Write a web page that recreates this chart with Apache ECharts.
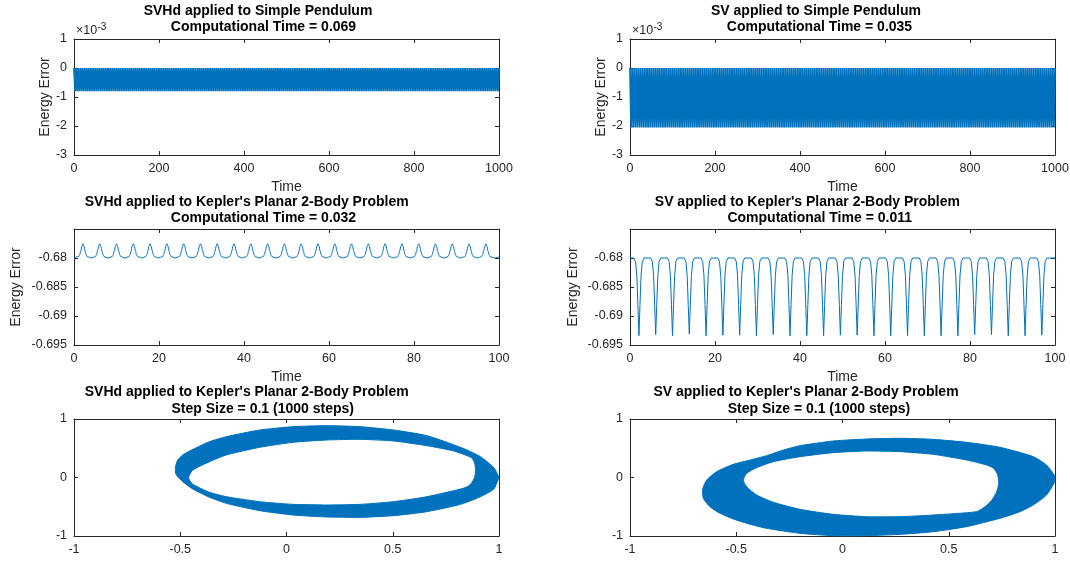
<!DOCTYPE html>
<html><head><meta charset="utf-8">
<script src="https://cdn.jsdelivr.net/npm/echarts@6/dist/echarts.min.js"></script>
<style>html,body{margin:0;padding:0;background:#fff}#c{width:1070px;height:561px}</style>
</head><body><div id="c"></div>
<script>
// ---------------- DATA ----------------
// Simple pendulum energy error (units of 1e-3), sampled every PEND_DT time units
const PEND_DT = 2.5;
const pendSVHdErr = [
0,-0.8,0,-0.8,0,-0.8,0,-0.8,0,-0.8,0,-0.8,0,-0.8,0,-0.8,0,-0.8,0,-0.8,
0,-0.8,0,-0.8,0,-0.8,0,-0.8,0,-0.8,0,-0.8,0,-0.8,0,-0.8,0,-0.8,0,-0.8,
0,-0.8,0,-0.8,0,-0.8,0,-0.8,0,-0.8,0,-0.8,0,-0.8,0,-0.8,0,-0.8,0,-0.8,
0,-0.8,0,-0.8,0,-0.8,0,-0.8,0,-0.8,0,-0.8,0,-0.8,0,-0.8,0,-0.8,0,-0.8,
0,-0.8,0,-0.8,0,-0.8,0,-0.8,0,-0.8,0,-0.8,0,-0.8,0,-0.8,0,-0.8,0,-0.8,
0,-0.8,0,-0.8,0,-0.8,0,-0.8,0,-0.8,0,-0.8,0,-0.8,0,-0.8,0,-0.8,0,-0.8,
0,-0.8,0,-0.8,0,-0.8,0,-0.8,0,-0.8,0,-0.8,0,-0.8,0,-0.8,0,-0.8,0,-0.8,
0,-0.8,0,-0.8,0,-0.8,0,-0.8,0,-0.8,0,-0.8,0,-0.8,0,-0.8,0,-0.8,0,-0.8,
0,-0.8,0,-0.8,0,-0.8,0,-0.8,0,-0.8,0,-0.8,0,-0.8,0,-0.8,0,-0.8,0,-0.8,
0,-0.8,0,-0.8,0,-0.8,0,-0.8,0,-0.8,0,-0.8,0,-0.8,0,-0.8,0,-0.8,0,-0.8,
0,-0.8,0,-0.8,0,-0.8,0,-0.8,0,-0.8,0,-0.8,0,-0.8,0,-0.8,0,-0.8,0,-0.8,
0,-0.8,0,-0.8,0,-0.8,0,-0.8,0,-0.8,0,-0.8,0,-0.8,0,-0.8,0,-0.8,0,-0.8,
0,-0.8,0,-0.8,0,-0.8,0,-0.8,0,-0.8,0,-0.8,0,-0.8,0,-0.8,0,-0.8,0,-0.8,
0,-0.8,0,-0.8,0,-0.8,0,-0.8,0,-0.8,0,-0.8,0,-0.8,0,-0.8,0,-0.8,0,-0.8,
0,-0.8,0,-0.8,0,-0.8,0,-0.8,0,-0.8,0,-0.8,0,-0.8,0,-0.8,0,-0.8,0,-0.8,
0,-0.8,0,-0.8,0,-0.8,0,-0.8,0,-0.8,0,-0.8,0,-0.8,0,-0.8,0,-0.8,0,-0.8,
0,-0.8,0,-0.8,0,-0.8,0,-0.8,0,-0.8,0,-0.8,0,-0.8,0,-0.8,0,-0.8,0,-0.8,
0,-0.8,0,-0.8,0,-0.8,0,-0.8,0,-0.8,0,-0.8,0,-0.8,0,-0.8,0,-0.8,0,-0.8,
0,-0.8,0,-0.8,0,-0.8,0,-0.8,0,-0.8,0,-0.8,0,-0.8,0,-0.8,0,-0.8,0,-0.8,
0,-0.8,0,-0.8,0,-0.8,0,-0.8,0,-0.8,0,-0.8,0,-0.8,0,-0.8,0,-0.8,0,-0.8,
0];
const pendSVErr = [
0,-2.05,0,-2.05,0,-2.05,0,-2.05,0,-2.05,0,-2.05,0,-2.05,0,-2.05,0,-2.05,0,-2.05,
0,-2.05,0,-2.05,0,-2.05,0,-2.05,0,-2.05,0,-2.05,0,-2.05,0,-2.05,0,-2.05,0,-2.05,
0,-2.05,0,-2.05,0,-2.05,0,-2.05,0,-2.05,0,-2.05,0,-2.05,0,-2.05,0,-2.05,0,-2.05,
0,-2.05,0,-2.05,0,-2.05,0,-2.05,0,-2.05,0,-2.05,0,-2.05,0,-2.05,0,-2.05,0,-2.05,
0,-2.05,0,-2.05,0,-2.05,0,-2.05,0,-2.05,0,-2.05,0,-2.05,0,-2.05,0,-2.05,0,-2.05,
0,-2.05,0,-2.05,0,-2.05,0,-2.05,0,-2.05,0,-2.05,0,-2.05,0,-2.05,0,-2.05,0,-2.05,
0,-2.05,0,-2.05,0,-2.05,0,-2.05,0,-2.05,0,-2.05,0,-2.05,0,-2.05,0,-2.05,0,-2.05,
0,-2.05,0,-2.05,0,-2.05,0,-2.05,0,-2.05,0,-2.05,0,-2.05,0,-2.05,0,-2.05,0,-2.05,
0,-2.05,0,-2.05,0,-2.05,0,-2.05,0,-2.05,0,-2.05,0,-2.05,0,-2.05,0,-2.05,0,-2.05,
0,-2.05,0,-2.05,0,-2.05,0,-2.05,0,-2.05,0,-2.05,0,-2.05,0,-2.05,0,-2.05,0,-2.05,
0,-2.05,0,-2.05,0,-2.05,0,-2.05,0,-2.05,0,-2.05,0,-2.05,0,-2.05,0,-2.05,0,-2.05,
0,-2.05,0,-2.05,0,-2.05,0,-2.05,0,-2.05,0,-2.05,0,-2.05,0,-2.05,0,-2.05,0,-2.05,
0,-2.05,0,-2.05,0,-2.05,0,-2.05,0,-2.05,0,-2.05,0,-2.05,0,-2.05,0,-2.05,0,-2.05,
0,-2.05,0,-2.05,0,-2.05,0,-2.05,0,-2.05,0,-2.05,0,-2.05,0,-2.05,0,-2.05,0,-2.05,
0,-2.05,0,-2.05,0,-2.05,0,-2.05,0,-2.05,0,-2.05,0,-2.05,0,-2.05,0,-2.05,0,-2.05,
0,-2.05,0,-2.05,0,-2.05,0,-2.05,0,-2.05,0,-2.05,0,-2.05,0,-2.05,0,-2.05,0,-2.05,
0,-2.05,0,-2.05,0,-2.05,0,-2.05,0,-2.05,0,-2.05,0,-2.05,0,-2.05,0,-2.05,0,-2.05,
0,-2.05,0,-2.05,0,-2.05,0,-2.05,0,-2.05,0,-2.05,0,-2.05,0,-2.05,0,-2.05,0,-2.05,
0,-2.05,0,-2.05,0,-2.05,0,-2.05,0,-2.05,0,-2.05,0,-2.05,0,-2.05,0,-2.05,0,-2.05,
0,-2.05,0,-2.05,0,-2.05,0,-2.05,0,-2.05,0,-2.05,0,-2.05,0,-2.05,0,-2.05,0,-2.05,
0];

// Kepler energy, SVHd (time, energy)
const kepHdT = [0,
1.10,1.35,1.60,1.85,2.10,2.35,2.60,2.85,3.10,4.075,
5.05,5.30,5.55,5.80,6.05,6.30,6.55,6.80,7.05,8.025,
9.00,9.25,9.50,9.75,10.00,10.25,10.50,10.75,11.00,11.975,
12.95,13.20,13.45,13.70,13.95,14.20,14.45,14.70,14.95,15.925,
16.90,17.15,17.40,17.65,17.90,18.15,18.40,18.65,18.90,19.875,
20.85,21.10,21.35,21.60,21.85,22.10,22.35,22.60,22.85,23.825,
24.80,25.05,25.30,25.55,25.80,26.05,26.30,26.55,26.80,27.775,
28.75,29.00,29.25,29.50,29.75,30.00,30.25,30.50,30.75,31.725,
32.70,32.95,33.20,33.45,33.70,33.95,34.20,34.45,34.70,35.675,
36.65,36.90,37.15,37.40,37.65,37.90,38.15,38.40,38.65,39.625,
40.60,40.85,41.10,41.35,41.60,41.85,42.10,42.35,42.60,43.575,
44.55,44.80,45.05,45.30,45.55,45.80,46.05,46.30,46.55,47.525,
48.50,48.75,49.00,49.25,49.50,49.75,50.00,50.25,50.50,51.475,
52.45,52.70,52.95,53.20,53.45,53.70,53.95,54.20,54.45,55.425,
56.40,56.65,56.90,57.15,57.40,57.65,57.90,58.15,58.40,59.375,
60.35,60.60,60.85,61.10,61.35,61.60,61.85,62.10,62.35,63.325,
64.30,64.55,64.80,65.05,65.30,65.55,65.80,66.05,66.30,67.275,
68.25,68.50,68.75,69.00,69.25,69.50,69.75,70.00,70.25,71.225,
72.20,72.45,72.70,72.95,73.20,73.45,73.70,73.95,74.20,75.175,
76.15,76.40,76.65,76.90,77.15,77.40,77.65,77.90,78.15,79.125,
80.10,80.35,80.60,80.85,81.10,81.35,81.60,81.85,82.10,83.075,
84.05,84.30,84.55,84.80,85.05,85.30,85.55,85.80,86.05,87.025,
88.00,88.25,88.50,88.75,89.00,89.25,89.50,89.75,90.00,90.975,
91.95,92.20,92.45,92.70,92.95,93.20,93.45,93.70,93.95,94.925,
95.90,96.15,96.40,96.65,96.90,97.15,97.40,97.65,97.90,98.875,100];
const kepHdE = [-0.68,
-0.67975,-0.6794,-0.67875,-0.67795,-0.67755,-0.67795,-0.67875,-0.6794,-0.67975,-0.68,
-0.67975,-0.6794,-0.67875,-0.67795,-0.67755,-0.67795,-0.67875,-0.6794,-0.67975,-0.68,
-0.67975,-0.6794,-0.67875,-0.67795,-0.67755,-0.67795,-0.67875,-0.6794,-0.67975,-0.68,
-0.67975,-0.6794,-0.67875,-0.67795,-0.67755,-0.67795,-0.67875,-0.6794,-0.67975,-0.68,
-0.67975,-0.6794,-0.67875,-0.67795,-0.67755,-0.67795,-0.67875,-0.6794,-0.67975,-0.68,
-0.67975,-0.6794,-0.67875,-0.67795,-0.67755,-0.67795,-0.67875,-0.6794,-0.67975,-0.68,
-0.67975,-0.6794,-0.67875,-0.67795,-0.67755,-0.67795,-0.67875,-0.6794,-0.67975,-0.68,
-0.67975,-0.6794,-0.67875,-0.67795,-0.67755,-0.67795,-0.67875,-0.6794,-0.67975,-0.68,
-0.67975,-0.6794,-0.67875,-0.67795,-0.67755,-0.67795,-0.67875,-0.6794,-0.67975,-0.68,
-0.67975,-0.6794,-0.67875,-0.67795,-0.67755,-0.67795,-0.67875,-0.6794,-0.67975,-0.68,
-0.67975,-0.6794,-0.67875,-0.67795,-0.67755,-0.67795,-0.67875,-0.6794,-0.67975,-0.68,
-0.67975,-0.6794,-0.67875,-0.67795,-0.67755,-0.67795,-0.67875,-0.6794,-0.67975,-0.68,
-0.67975,-0.6794,-0.67875,-0.67795,-0.67755,-0.67795,-0.67875,-0.6794,-0.67975,-0.68,
-0.67975,-0.6794,-0.67875,-0.67795,-0.67755,-0.67795,-0.67875,-0.6794,-0.67975,-0.68,
-0.67975,-0.6794,-0.67875,-0.67795,-0.67755,-0.67795,-0.67875,-0.6794,-0.67975,-0.68,
-0.67975,-0.6794,-0.67875,-0.67795,-0.67755,-0.67795,-0.67875,-0.6794,-0.67975,-0.68,
-0.67975,-0.6794,-0.67875,-0.67795,-0.67755,-0.67795,-0.67875,-0.6794,-0.67975,-0.68,
-0.67975,-0.6794,-0.67875,-0.67795,-0.67755,-0.67795,-0.67875,-0.6794,-0.67975,-0.68,
-0.67975,-0.6794,-0.67875,-0.67795,-0.67755,-0.67795,-0.67875,-0.6794,-0.67975,-0.68,
-0.67975,-0.6794,-0.67875,-0.67795,-0.67755,-0.67795,-0.67875,-0.6794,-0.67975,-0.68,
-0.67975,-0.6794,-0.67875,-0.67795,-0.67755,-0.67795,-0.67875,-0.6794,-0.67975,-0.68,
-0.67975,-0.6794,-0.67875,-0.67795,-0.67755,-0.67795,-0.67875,-0.6794,-0.67975,-0.68,
-0.67975,-0.6794,-0.67875,-0.67795,-0.67755,-0.67795,-0.67875,-0.6794,-0.67975,-0.68,
-0.67975,-0.6794,-0.67875,-0.67795,-0.67755,-0.67795,-0.67875,-0.6794,-0.67975,-0.68,
-0.67975,-0.6794,-0.67875,-0.67795,-0.67755,-0.67795,-0.67875,-0.6794,-0.67975,-0.68,-0.6798];

// Kepler energy, SV (time, energy)
const kepSvT = [0,
0.90,1.30,1.60,1.85,2.10,2.35,2.60,2.90,3.30,
4.85,5.25,5.55,5.80,6.05,6.30,6.55,6.85,7.25,
8.80,9.20,9.50,9.75,10.00,10.25,10.50,10.80,11.20,
12.75,13.15,13.45,13.70,13.95,14.20,14.45,14.75,15.15,
16.70,17.10,17.40,17.65,17.90,18.15,18.40,18.70,19.10,
20.65,21.05,21.35,21.60,21.85,22.10,22.35,22.65,23.05,
24.60,25.00,25.30,25.55,25.80,26.05,26.30,26.60,27.00,
28.55,28.95,29.25,29.50,29.75,30.00,30.25,30.55,30.95,
32.50,32.90,33.20,33.45,33.70,33.95,34.20,34.50,34.90,
36.45,36.85,37.15,37.40,37.65,37.90,38.15,38.45,38.85,
40.40,40.80,41.10,41.35,41.60,41.85,42.10,42.40,42.80,
44.35,44.75,45.05,45.30,45.55,45.80,46.05,46.35,46.75,
48.30,48.70,49.00,49.25,49.50,49.75,50.00,50.30,50.70,
52.25,52.65,52.95,53.20,53.45,53.70,53.95,54.25,54.65,
56.20,56.60,56.90,57.15,57.40,57.65,57.90,58.20,58.60,
60.15,60.55,60.85,61.10,61.35,61.60,61.85,62.15,62.55,
64.10,64.50,64.80,65.05,65.30,65.55,65.80,66.10,66.50,
68.05,68.45,68.75,69.00,69.25,69.50,69.75,70.05,70.45,
72.00,72.40,72.70,72.95,73.20,73.45,73.70,74.00,74.40,
75.95,76.35,76.65,76.90,77.15,77.40,77.65,77.95,78.35,
79.90,80.30,80.60,80.85,81.10,81.35,81.60,81.90,82.30,
83.85,84.25,84.55,84.80,85.05,85.30,85.55,85.85,86.25,
87.80,88.20,88.50,88.75,89.00,89.25,89.50,89.80,90.20,
91.75,92.15,92.45,92.70,92.95,93.20,93.45,93.75,94.15,
95.70,96.10,96.40,96.65,96.90,97.15,97.40,97.70,98.10,
100];
const kepSvE = [-0.68,
-0.68,-0.6806,-0.683,-0.688,-0.6934,-0.688,-0.683,-0.6806,-0.68,
-0.68,-0.6806,-0.683,-0.688,-0.6932,-0.688,-0.683,-0.6806,-0.68,
-0.68,-0.6806,-0.683,-0.688,-0.6934,-0.688,-0.683,-0.6806,-0.68,
-0.68,-0.6806,-0.683,-0.688,-0.6931,-0.688,-0.683,-0.6806,-0.68,
-0.68,-0.6806,-0.683,-0.688,-0.6934,-0.688,-0.683,-0.6806,-0.68,
-0.68,-0.6806,-0.683,-0.688,-0.6933,-0.688,-0.683,-0.6806,-0.68,
-0.68,-0.6806,-0.683,-0.688,-0.6933,-0.688,-0.683,-0.6806,-0.68,
-0.68,-0.6806,-0.683,-0.688,-0.6934,-0.688,-0.683,-0.6806,-0.68,
-0.68,-0.6806,-0.683,-0.688,-0.6932,-0.688,-0.683,-0.6806,-0.68,
-0.68,-0.6806,-0.683,-0.688,-0.6934,-0.688,-0.683,-0.6806,-0.68,
-0.68,-0.6806,-0.683,-0.688,-0.6934,-0.688,-0.683,-0.6806,-0.68,
-0.68,-0.6806,-0.683,-0.688,-0.6934,-0.688,-0.683,-0.6806,-0.68,
-0.68,-0.6806,-0.683,-0.688,-0.6933,-0.688,-0.683,-0.6806,-0.68,
-0.68,-0.6806,-0.683,-0.688,-0.6933,-0.688,-0.683,-0.6806,-0.68,
-0.68,-0.6806,-0.683,-0.688,-0.6934,-0.688,-0.683,-0.6806,-0.68,
-0.68,-0.6806,-0.683,-0.688,-0.6934,-0.688,-0.683,-0.6806,-0.68,
-0.68,-0.6806,-0.683,-0.688,-0.6934,-0.688,-0.683,-0.6806,-0.68,
-0.68,-0.6806,-0.683,-0.688,-0.6934,-0.688,-0.683,-0.6806,-0.68,
-0.68,-0.6806,-0.683,-0.688,-0.6934,-0.688,-0.683,-0.6806,-0.68,
-0.68,-0.6806,-0.683,-0.688,-0.6934,-0.688,-0.683,-0.6806,-0.68,
-0.68,-0.6806,-0.683,-0.688,-0.6932,-0.688,-0.683,-0.6806,-0.68,
-0.68,-0.6806,-0.683,-0.688,-0.6932,-0.688,-0.683,-0.6806,-0.68,
-0.68,-0.6806,-0.683,-0.688,-0.6934,-0.688,-0.683,-0.6806,-0.68,
-0.68,-0.6806,-0.683,-0.688,-0.6934,-0.688,-0.683,-0.6806,-0.68,
-0.68,-0.6806,-0.683,-0.688,-0.6933,-0.688,-0.683,-0.6806,-0.68,
-0.68];

// Orbit bands (x, y): outer envelope and inner hole of the 1000-step trajectories
const orbitHdOuter = [[1.0,0.0],[0.995,0.043],[0.976,0.168],[0.913,0.356],[0.819,0.516],[0.661,0.715],[0.504,0.812],[0.346,0.869],[0.189,0.886],[0.031,0.869],[-0.126,0.812],[-0.283,0.698],[-0.362,0.613],[-0.441,0.481],[-0.488,0.385],[-0.512,0.299],[-0.523,0.168],[-0.520,0.054],[-0.488,-0.071],[-0.441,-0.197],[-0.362,-0.339],[-0.283,-0.442],[-0.126,-0.567],[0.031,-0.641],[0.189,-0.675],[0.346,-0.681],[0.504,-0.652],[0.661,-0.584],[0.819,-0.459],[0.913,-0.328],[0.976,-0.197],[0.995,-0.043]];
const orbitHdInner = [[0.885,0.0],[0.89,0.12],[0.885,0.25],[0.87,0.34],[0.787,0.453],[0.661,0.544],[0.504,0.624],[0.346,0.652],[0.189,0.641],[0.031,0.601],[-0.126,0.516],[-0.283,0.385],[-0.362,0.271],[-0.441,0.128],[-0.460,0.014],[-0.457,-0.043],[-0.441,-0.117],[-0.362,-0.254],[-0.283,-0.328],[-0.126,-0.413],[0.031,-0.459],[0.189,-0.470],[0.346,-0.459],[0.504,-0.413],[0.661,-0.328],[0.819,-0.197],[0.85,-0.16],[0.87,-0.1]];
const orbitSvOuter = [[1.0,0.0],[0.995,0.05],[0.96,0.214],[0.898,0.356],[0.741,0.516],[0.584,0.601],[0.427,0.652],[0.271,0.670],[0.114,0.658],[-0.043,0.624],[-0.2,0.544],[-0.278,0.470],[-0.357,0.373],[-0.435,0.299],[-0.514,0.225],[-0.592,0.10],[-0.639,-0.043],[-0.658,-0.2],[-0.655,-0.356],[-0.624,-0.499],[-0.576,-0.613],[-0.514,-0.709],[-0.435,-0.8],[-0.357,-0.869],[-0.2,-0.954],[-0.043,-0.994],[0.114,-0.994],[0.271,-0.972],[0.427,-0.926],[0.584,-0.84],[0.741,-0.698],[0.835,-0.584],[0.898,-0.47],[0.96,-0.3],[0.995,-0.1]];
const orbitSvInner = [[0.70,-0.40],[0.725,-0.25],[0.735,-0.1],[0.73,0.05],[0.71,0.16],[0.678,0.214],[0.584,0.299],[0.427,0.396],[0.271,0.442],[0.114,0.453],[-0.043,0.425],[-0.2,0.356],[-0.325,0.271],[-0.404,0.168],[-0.451,0.071],[-0.467,-0.043],[-0.451,-0.157],[-0.404,-0.299],[-0.325,-0.424],[-0.2,-0.544],[-0.043,-0.63],[0.114,-0.67],[0.271,-0.67],[0.427,-0.641],[0.631,-0.584],[0.67,-0.5]];

// Tick values
const pendTimeTicks = [0,200,400,600,800,1000];
const pendErrTicks = [-3,-2,-1,0,1];
const kepTimeTicks = [0,20,40,60,80,100];
const kepEnergyTicks = [-0.695,-0.69,-0.685,-0.68,-0.675];
const orbitXTicks = [-1,-0.5,0,0.5,1];
const orbitYTicks = [-1,0,1];

// Texts
const titles = [
  ["SVHd applied to Simple Pendulum", "Computational Time = 0.069"],
  ["SV applied to Simple Pendulum", "Computational Time = 0.035"],
  ["SVHd applied to Kepler's Planar 2-Body Problem", "Computational Time = 0.032"],
  ["SV applied to Kepler's Planar 2-Body Problem", "Computational Time = 0.011"],
  ["SVHd applied to Kepler's Planar 2-Body Problem", "Step Size = 0.1 (1000 steps)"],
  ["SV applied to Kepler's Planar 2-Body Problem", "Step Size = 0.1 (1000 steps)"]
];

// ---------------- LAYOUT ----------------
const BLUE = '#0072BD';
const AX = '#262626';
const FONT = '"Liberation Sans", Arial, Helvetica, sans-serif';
const GRIDS = [
  {left:74, top:39, width:425, height:116},
  {left:630, top:39, width:425, height:116},
  {left:74, top:229, width:425, height:116},
  {left:630, top:229, width:425, height:116},
  {left:74, top:419, width:425, height:117},
  {left:630, top:419, width:425, height:117}
];
const TITLE_POS = [
  [[258,11],[263.5,27.5]],
  [[816,11],[819.5,27.5]],
  [[246.7,202],[263.5,218.5]],
  [[807.4,202],[819.7,218.5]],
  [[246.7,392],[262.7,409.5]],
  [[806,392],[819,409.5]]
];

function axis(gridIndex, ticks, position, showLabels, extra) {
  const iv = +(ticks[1]-ticks[0]).toFixed(6);
  return Object.assign({
    type:'value', gridIndex, position,
    min: ticks[0], max: ticks[ticks.length-1], interval: iv,
    axisLine:{show:true, onZero:false, lineStyle:{color:AX, width:1}},
    axisTick:{show:true, inside:true, length:4, lineStyle:{color:AX, width:1}},
    splitLine:{show:false},
    axisLabel:{show:showLabels, color:AX, fontSize:12.5, fontFamily:FONT, margin:7,
      showMinLabel:true, showMaxLabel:true, formatter: v => String(+(+v).toFixed(6))},
    nameTextStyle:{color:AX, fontSize:14, fontFamily:FONT}
  }, extra || {});
}

const xTicksPerGrid = [pendTimeTicks, pendTimeTicks, kepTimeTicks, kepTimeTicks, orbitXTicks, orbitXTicks];
const yTicksPerGrid = [pendErrTicks, pendErrTicks, kepEnergyTicks, kepEnergyTicks, orbitYTicks, orbitYTicks];
const yNameGap = [21, 22, 51, 50, 0, 0];

const xAxes = [], yAxes = [];
for (let g = 0; g < 6; g++) {
  const xe = g < 4 ? {name:'Time', nameLocation:'middle', nameGap:25} : {};
  xAxes.push(axis(g, xTicksPerGrid[g], 'bottom', true, xe));
  const ye = g < 4 ? {name:'Energy Error', nameLocation:'middle', nameGap:yNameGap[g]} : {};
  const yax = axis(g, yTicksPerGrid[g], 'left', true, ye);
  if (g === 2 || g === 3) yax.axisLabel.showMaxLabel = false;
  yAxes.push(yax);
}
for (let g = 0; g < 6; g++) {
  xAxes.push(axis(g, xTicksPerGrid[g], 'top', false));
  yAxes.push(axis(g, yTicksPerGrid[g], 'right', false));
}

function lineSeries(idx, data, extra, width) {
  return Object.assign({
    type:'line', xAxisIndex:idx, yAxisIndex:idx, data, symbol:'none', silent:true,
    lineStyle:{color:BLUE, width: width || 1, join:'bevel'}, itemStyle:{color:BLUE}, animation:false
  }, extra || {});
}
function ringSeries(idx, outer, inner) {
  return {
    type:'custom', xAxisIndex:idx, yAxisIndex:idx, silent:true, animation:false,
    data:[[0,0]],
    renderItem: function (params, api) {
      return {type:'group', children:[
        {type:'polygon', shape:{points: outer.map(p => api.coord(p)), smooth:0.2}, style:{fill:BLUE, stroke:BLUE, lineWidth:1}},
        {type:'polygon', shape:{points: inner.map(p => api.coord(p)), smooth:0.2}, style:{fill:'#fff', stroke:BLUE, lineWidth:1}}
      ]};
    }
  };
}

const series = [
  lineSeries(0, pendSVHdErr.map((v,i) => [i*PEND_DT, v]), null, 1.8),
  lineSeries(1, pendSVErr.map((v,i) => [i*PEND_DT, v]), null, 1.8),
  lineSeries(2, kepHdT.map((t,i) => [t, kepHdE[i]]), {smooth:0.4, smoothMonotone:'x'}),
  lineSeries(3, kepSvT.map((t,i) => [t, kepSvE[i]])),
  ringSeries(4, orbitHdOuter, orbitHdInner),
  ringSeries(5, orbitSvOuter, orbitSvInner)
];

const graphic = [];
titles.forEach((pair, g) => {
  pair.forEach((txt, k) => {
    const p = TITLE_POS[g][k];
    graphic.push({type:'text', x:p[0], y:p[1], silent:true,
      style:{text:txt, fill:'#000', font:'bold 14px ' + FONT, align:'center', verticalAlign:'middle'}});
  });
});
[[76,31],[632,31]].forEach(p => {
  graphic.push({type:'text', x:p[0], y:p[1], silent:true,
    style:{text:'\u00d710', fill:AX, font:'12.5px ' + FONT, align:'left', verticalAlign:'middle'}});
  graphic.push({type:'text', x:p[0]+21.5, y:p[1]-4, silent:true,
    style:{text:'-3', fill:AX, font:'10px ' + FONT, align:'left', verticalAlign:'middle'}});
});

const chart = echarts.init(document.getElementById('c'), null, {renderer:'canvas'});
chart.setOption({
  animation:false,
  backgroundColor:'#fff',
  textStyle:{fontFamily:FONT},
  grid: GRIDS.map(g => Object.assign({containLabel:false, outerBoundsMode:'none'}, g)),
  xAxis: xAxes,
  yAxis: yAxes,
  series,
  graphic
});
</script></body></html>
